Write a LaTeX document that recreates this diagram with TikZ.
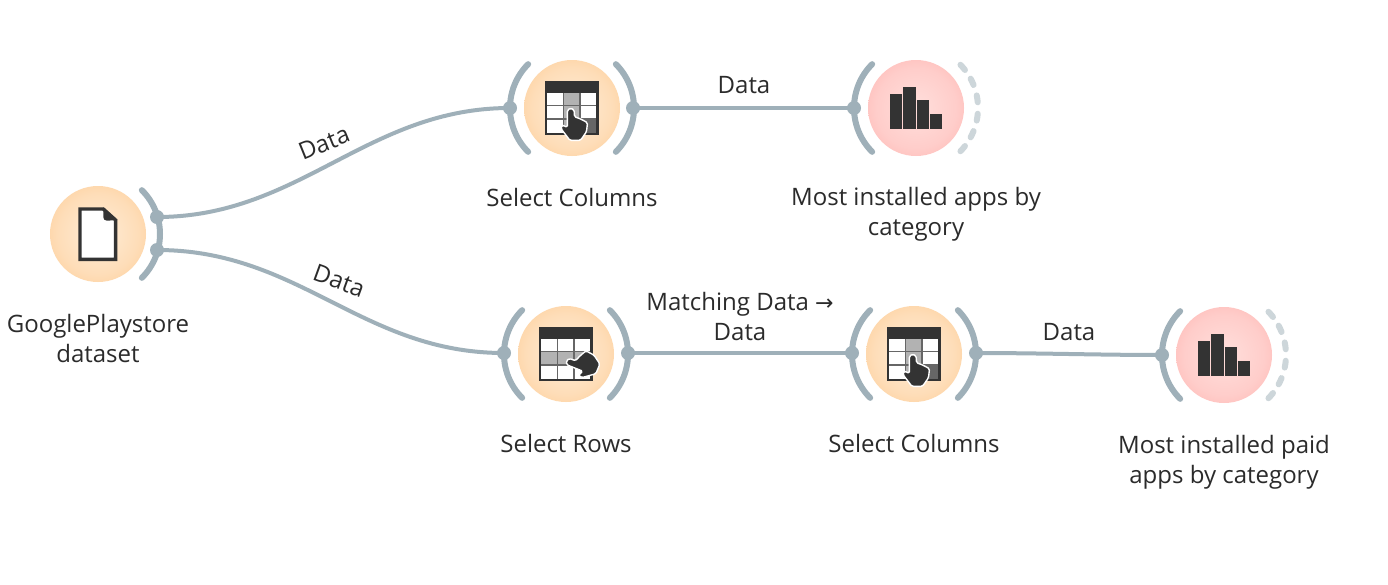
\documentclass[tikz,border=0pt]{standalone}
\usepackage{fontspec}
\setmainfont{Open Sans}
\newfontfamily\arrowfont{DejaVu Sans}
\definecolor{chan}{HTML}{9FB0B9}
\definecolor{chanlight}{HTML}{CDD6DA}
\definecolor{ink}{HTML}{333333}
\definecolor{txt}{HTML}{2B2B2B}
\definecolor{gapc}{HTML}{666666}
\definecolor{orin}{HTML}{FFEDD8}
\definecolor{ormid}{HTML}{FEDDB8}
\definecolor{orout}{HTML}{FDCB92}
\definecolor{rdin}{HTML}{FFDFDC}
\definecolor{rdmid}{HTML}{FFCDCA}
\definecolor{rdout}{HTML}{FFB3AF}
\pgfdeclareradialshading{orbo}{\pgfpointorigin}{color(0bp)=(orin); color(21bp)=(ormid); color(36bp)=(orout); color(50bp)=(orout)}
\pgfdeclareradialshading{orbr}{\pgfpointorigin}{color(0bp)=(rdin); color(21bp)=(rdmid); color(36bp)=(rdout); color(50bp)=(rdout)}
\tikzset{
  orange/.style={circle,minimum size=96pt,inner sep=0pt,shade,shading=orbo},
  redorb/.style={circle,minimum size=96pt,inner sep=0pt,shade,shading=orbr},
  chanarc/.style={draw=chan,line width=6pt,line cap=round},
  freearc/.style={draw=chanlight,line width=6pt,line cap=round},
  port/.style={circle,fill=chan,minimum size=14pt,inner sep=0pt},
  link/.style={draw=chan,line width=4pt},
  lbl/.style={text=txt,font=\fontsize{24}{30}\selectfont,inner sep=0pt,align=center},
  handst/.style={fill=ink,draw=white,line width=1.4pt,line join=round,rounded corners=1.5pt}
}
\newcommand\handpath{%
  \path[handst] (-1.3,0.2) -- (-4.6,2) -- (-4.6,19.3) -- (-10,17) -- (-11,20.7) -- (-2,32.4) -- (8.5,32.4) -- (14.5,23.7) -- (15.5,14.7) -- (8.7,11) -- (2.4,8.7) -- (2.2,2) -- cycle;}
\newcommand\tableframe{%
  \fill[ink] (-27,-27) rectangle (27,27);
  \fill[gapc] (-24.7,-14.7) rectangle (24,24.5);}
\newcommand\colicon{%
  \tableframe
  \foreach \xa/\xb/\cl in {-24.7/-9.3/white,-8/7.3/black!30,8.7/24/white}{
    \foreach \ya/\yb in {-14.7/-3,-1.6/10.3,11.7/24.5}{
      \fill[\cl] (\xa,\ya) rectangle (\xb,\yb);}}
  \fill[black!60] (8.7,11.7) rectangle (24,24.5);
  \handpath}
\newcommand\rowicon{%
  \tableframe
  \foreach \ya/\yb/\cl in {-14.7/-3/white,-1.6/10.3/black!30,11.7/24.5/white}{
    \foreach \xa/\xb in {-24.7/-9.3,-8/7.3,8.7/24}{
      \fill[\cl] (\xa,\ya) rectangle (\xb,\yb);}}
  \begin{scope}[shift={(0.3,7)},rotate=68,shift={(1.3,-0.2)}]
    \handpath
  \end{scope}}
\newcommand\bars{%
  \fill[ink] (-26.3,-13.7) rectangle (-14,21);
  \fill[ink] (-12.7,-21) rectangle (-0.3,21);
  \fill[ink] (1,-7.7) rectangle (13,21);
  \fill[ink] (14.3,6) rectangle (26.3,21);}
\newcommand\docicon{%
  \draw[ink,line width=3.4pt,fill=white,line join=miter] (-18,-25) -- (5.3,-25) -- (17.6,-14) -- (17.6,25.3) -- (-18,25.3) -- cycle;
  \fill[ink] (5.3,-26.7) -- (19.3,-14) -- (9,-13.3) .. controls (6.5,-13.3) and (5.3,-15) .. (5.3,-17) -- cycle;}
\newcommand\leftarc[1]{\draw[chanarc] (#1) ++(135:62) arc (135:225:62);}
\newcommand\rightarc[1]{\draw[chanarc] (#1) ++(-45:62) arc (-45:45:62);}
\newcommand\freedash[1]{%
  \foreach \ang in {-41,-25,-8.5,8.5,25,41}{
    \draw[freearc] (#1) ++(\ang-3.2:62) arc (\ang-3.2:\ang+3.2:62);}}
\begin{document}
\begin{tikzpicture}[x=1pt,y=-1pt]
\useasboundingbox (0,0) rectangle (1388,584);
\fill[white] (0,0) rectangle (1388,584);
% widget bodies
\node[orange] (file) at (98,234) {};
\node[orange] (cola) at (572,108) {};
\node[redorb] (bara) at (916,108) {};
\node[orange] (rows) at (566,354) {};
\node[orange] (colb) at (914,354) {};
\node[redorb] (barb) at (1224,355) {};
% channel arcs
\rightarc{file}
\leftarc{cola}\rightarc{cola}
\leftarc{bara}\freedash{bara}
\leftarc{rows}\rightarc{rows}
\leftarc{colb}\rightarc{colb}
\leftarc{barb}\freedash{barb}
% ports
\node[port] (fileA) at (157,217) {};
\node[port] (fileB) at (157,250) {};
\node[port] (colaI) at (510,108) {};
\node[port] (colaO) at (633,108) {};
\node[port] (baraI) at (854,108) {};
\node[port] (rowsI) at (504,353) {};
\node[port] (rowsO) at (628,353) {};
\node[port] (colbI) at (852,353) {};
\node[port] (colbO) at (976,353) {};
\node[port] (barbI) at (1162,355) {};
% links
\draw[link] (fileA.center) .. controls (300,217) and (367,108) .. (colaI.center);
\draw[link] (fileB.center) .. controls (300,250) and (362,353) .. (rowsI.center);
\draw[link] (colaO.center) -- (baraI.center);
\draw[link] (rowsO.center) -- (colbI.center);
\draw[link] (colbO.center) .. controls (1038,353) and (1100,355) .. (barbI.center);
% icons
\begin{scope}[shift={(98,234)}]\docicon\end{scope}
\begin{scope}[shift={(572,108)}]\colicon\end{scope}
\begin{scope}[shift={(916,108)}]\bars\end{scope}
\begin{scope}[shift={(566,354)}]\rowicon\end{scope}
\begin{scope}[shift={(914,354)}]\colicon\end{scope}
\begin{scope}[shift={(1224,355)}]\bars\end{scope}
% link labels
\node[lbl,rotate=22] (l1) at (324,143) {Data};
\node[lbl,rotate=-20] (l2) at (339,281) {Data};
\node[lbl] (l3) at (744,85) {Data};
\node[lbl] (l4) at (740,316) {Matching Data {\arrowfont\fontsize{22}{30}\selectfont →}\\Data};
\node[lbl] (l5) at (1069,332) {Data};
% widget captions
\node[lbl] (t1) at (98,338) {GooglePlaystore\\dataset};
\node[lbl] (t2) at (572,197) {Select Columns};
\node[lbl] (t3) at (916,214.5) {Most installed apps by\\category};
\node[lbl] (t4) at (566,443) {Select Rows};
\node[lbl] (t5) at (914,443) {Select Columns};
\node[lbl] (t6) at (1224,462.5) {Most installed paid\\apps by category};
\end{tikzpicture}
\end{document}
